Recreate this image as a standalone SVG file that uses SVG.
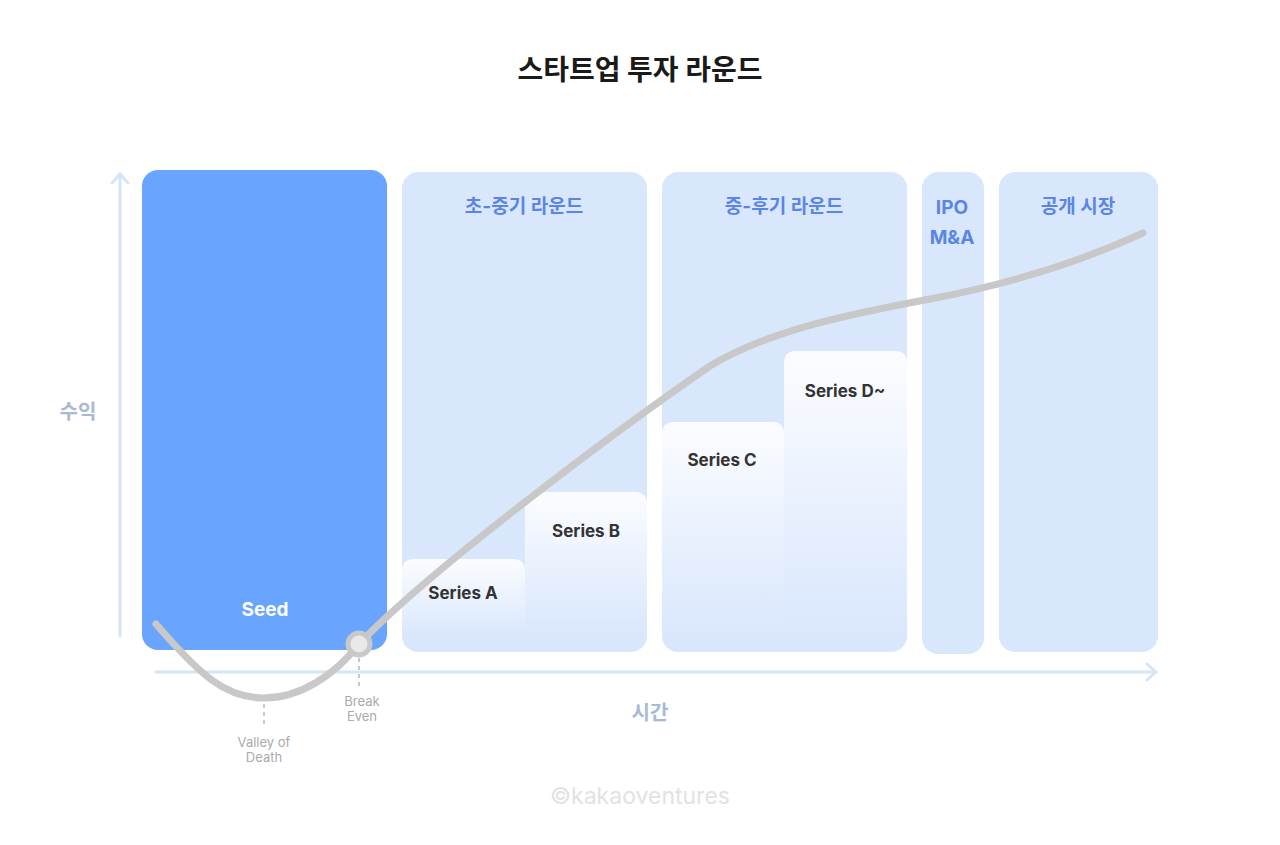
<svg xmlns="http://www.w3.org/2000/svg" width="1280" height="845" viewBox="0 0 1280 845">
<defs>
<linearGradient id="sg" x1="0" y1="0" x2="0" y2="1">
<stop offset="0" stop-color="#fbfcff"/>
<stop offset="0.25" stop-color="#f3f7fe"/>
<stop offset="1" stop-color="#d9e7fd"/>
</linearGradient>
<marker id="arr" viewBox="0 0 20 20" refX="14" refY="10" markerWidth="20" markerHeight="20" markerUnits="userSpaceOnUse" orient="auto">
<path d="M5,2 L14,10 L5,18" fill="none" stroke="#d6e4f8" stroke-width="3" stroke-linecap="round" stroke-linejoin="round"/>
</marker>
<style>
text{font-family:Inter,"Noto Sans CJK KR","Noto Sans",sans-serif;text-anchor:middle}
.col{fill:#d9e7fd}
.hd{fill:#5a85e6;font-size:19px;font-weight:700}
.ser{fill:#333333;font-size:17px;font-weight:700}
.ax{stroke:#d6e4f8;stroke-width:3;fill:none;stroke-linecap:round}
.axl{fill:#a9b9d4;font-size:20px;font-weight:700}
.note{fill:#aaaaaa;font-size:13px}
.dash{stroke:#c8c8c8;stroke-width:2;stroke-dasharray:4 4}
</style>
</defs>
<rect width="1280" height="845" fill="#ffffff"/>
<text x="640" y="80" font-size="28" font-weight="700" fill="#1a1a1a">스타트업 투자 라운드</text>

<g id="axes">
<line class="ax" x1="120" y1="636" x2="120" y2="174" marker-end="url(#arr)"/>
<line class="ax" x1="156" y1="672" x2="1156" y2="672" marker-end="url(#arr)"/>
<text class="axl" x="78" y="419">수익</text>
<text class="axl" x="650" y="720">시간</text>
</g>

<g id="seed">
<rect x="142" y="170" width="245" height="480" rx="16" fill="#69a5ff"/>
<text x="265" y="616" font-size="19" font-weight="700" fill="#ffffff">Seed</text>
</g>

<g id="early">
<rect class="col" x="402" y="172" width="245" height="480" rx="16"/>
<text class="hd" x="524" y="213">초-중기 라운드</text>
</g>
<g id="seriesA">
<path d="M402,636 L402,571 Q402,559 414,559 L513,559 Q525,559 525,571 L525,636 Z" fill="url(#sg)"/>
<text class="ser" x="463" y="599">Series A</text>
</g>
<g id="seriesB">
<path d="M525,636 L525,504 Q525,492 537,492 L635,492 Q647,492 647,504 L647,636 Z" fill="url(#sg)"/>
<text class="ser" x="586" y="537">Series B</text>
</g>

<g id="late">
<rect class="col" x="662" y="172" width="245" height="480" rx="16"/>
<text class="hd" x="784" y="213">중-후기 라운드</text>
</g>
<g id="seriesC">
<path d="M662,636 L662,434 Q662,422 674,422 L772,422 Q784,422 784,434 L784,636 Z" fill="url(#sg)"/>
<text class="ser" x="722" y="466">Series C</text>
</g>
<g id="seriesD">
<path d="M784,636 L784,363 Q784,351 796,351 L895,351 Q907,351 907,363 L907,636 Z" fill="url(#sg)"/>
<text class="ser" x="845" y="397">Series D~</text>
</g>

<g id="ipo">
<rect class="col" x="922" y="172" width="62" height="482" rx="16"/>
<text class="hd" x="952" y="214">IPO</text>
<text class="hd" x="952" y="244">M&amp;A</text>
</g>

<g id="public">
<rect class="col" x="999" y="172" width="159" height="480" rx="16"/>
<text class="hd" x="1078" y="213">공개 시장</text>
</g>

<g id="connectors">
<path d="M156,624 C200,675 225,698 264,698 C300,698 335,675 359,644 C430,570 610,435 710,366 C770,330 850,314 930,299 C1010,284 1080,262 1143,233" fill="none" stroke="#c8c8c8" stroke-width="7" stroke-linecap="round"/>
<line class="dash" x1="264" y1="704" x2="264" y2="728"/>
<line class="dash" x1="359" y1="658" x2="359" y2="686"/>
</g>

<g id="breakeven">
<circle cx="359" cy="644" r="11" fill="#e9e9e9" stroke="#c8c8c8" stroke-width="5"/>
<text class="note" x="362" y="706">Break</text>
<text class="note" x="362" y="721">Even</text>
</g>
<g id="valley">
<text class="note" x="264" y="747">Valley of</text>
<text class="note" x="264" y="762">Death</text>
</g>

<text x="640" y="804" font-size="23" fill="#e2e2e2">©kakaoventures</text>
</svg>
